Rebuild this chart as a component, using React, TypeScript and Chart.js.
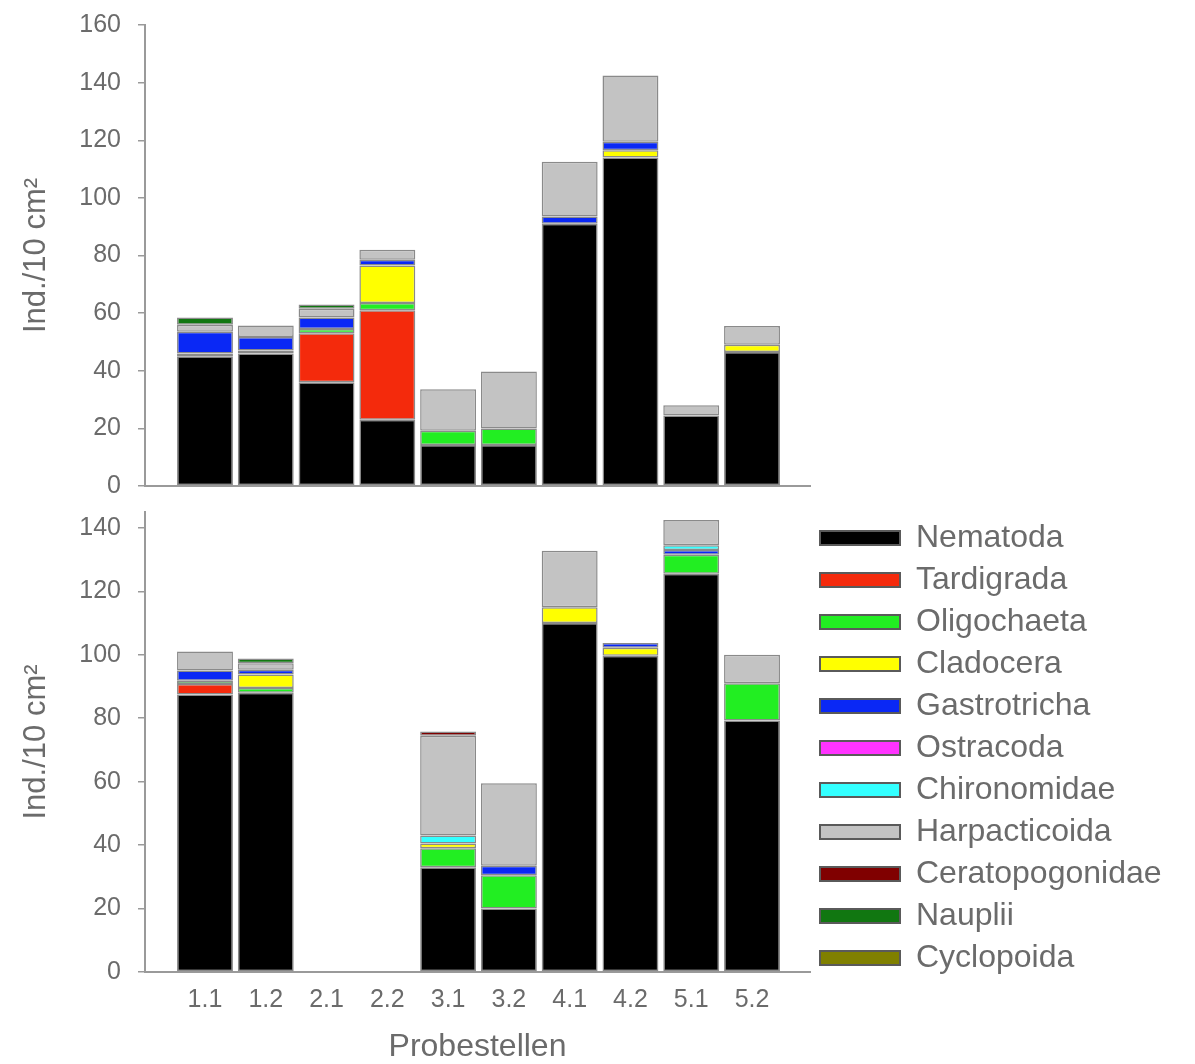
import React, { useEffect, useRef } from "react";
import { Chart, registerables } from "chart.js";

Chart.register(...registerables);

// ---- categories & legend ----
const sites = ["1.1", "1.2", "2.1", "2.2", "3.1", "3.2", "4.1", "4.2", "5.1", "5.2"];
const taxa = [
  "Nematoda",
  "Tardigrada",
  "Oligochaeta",
  "Cladocera",
  "Gastrotricha",
  "Ostracoda",
  "Chironomidae",
  "Harpacticoida",
  "Ceratopogonidae",
  "Nauplii",
  "Cyclopoida",
];
const taxonColors = [
  "#000000",
  "#f42a0c",
  "#22ee22",
  "#ffff00",
  "#0a28f5",
  "#ff33ff",
  "#33ffff",
  "#c3c3c3",
  "#800000",
  "#117711",
  "#808000",
];

// ---- upper panel (Ind./10 cm²) ----
const nematodaUpper = [45, 46, 36, 23, 14.2, 14.2, 91, 114, 24.5, 46.5];
const tardigradaUpper = [0, 0, 17, 38, 0, 0, 0, 0, 0, 0];
const oligochaetaUpper = [1, 1, 1.5, 2.5, 5, 5.8, 0, 0, 0, 0];
const cladoceraUpper = [0, 0, 0, 13, 0, 0, 0, 2.5, 0, 2.5];
const gastrotrichaUpper = [7.5, 4.7, 4, 2, 0, 0, 2.5, 3, 0, 0];
const ostracodaUpper = [0, 0, 0, 0, 0, 0, 0, 0, 0, 0];
const chironomidaeUpper = [0, 0, 0, 0, 0, 0, 0, 0, 0, 0];
const harpacticoidaUpper = [2.5, 4, 3, 3.5, 14.4, 19.7, 19, 23, 3.5, 6.5];
const ceratopogonidaeUpper = [0, 0, 0, 0, 0, 0, 0, 0, 0, 0];
const naupliiUpper = [2.5, 0, 1.5, 0, 0, 0, 0, 0, 0, 0];
const cyclopoidaUpper = [0, 0, 0, 0, 0, 0, 0, 0, 0, 0];

// ---- lower panel (Ind./10 cm²) ----
const nematodaLower = [87.5, 88, 0, 0, 33, 20, 110, 99.7, 125.5, 79.3];
const tardigradaLower = [3.3, 0, 0, 0, 0, 0, 0, 0, 0, 0];
const oligochaetaLower = [1, 1.5, 0, 0, 6, 10.5, 0, 0, 6, 11.7];
const cladoceraLower = [0, 4.3, 0, 0, 1.5, 0, 5, 2.5, 0, 0];
const gastrotrichaLower = [3.2, 1.5, 0, 0, 0, 3, 0, 1.5, 1.5, 0];
const ostracodaLower = [0, 0, 0, 0, 0, 0, 0, 0, 0, 0];
const chironomidaeLower = [0, 0, 0, 0, 2.5, 0, 0, 0, 1.5, 0];
const harpacticoidaLower = [6, 2, 0, 0, 31.5, 26, 17.8, 0, 8, 9];
const ceratopogonidaeLower = [0, 0, 0, 0, 1.3, 0, 0, 0, 0, 0];
const naupliiLower = [0, 1.5, 0, 0, 0, 0, 0, 0, 0, 0];
const cyclopoidaLower = [0, 0, 0, 0, 0, 0, 0, 0, 0, 0];

// ---- tick labels ----
const yTicksUpper = [0, 20, 40, 60, 80, 100, 120, 140, 160];
const yTicksLower = [0, 20, 40, 60, 80, 100, 120, 140];

const upperSeries = [
  nematodaUpper,
  tardigradaUpper,
  oligochaetaUpper,
  cladoceraUpper,
  gastrotrichaUpper,
  ostracodaUpper,
  chironomidaeUpper,
  harpacticoidaUpper,
  ceratopogonidaeUpper,
  naupliiUpper,
  cyclopoidaUpper,
];
const lowerSeries = [
  nematodaLower,
  tardigradaLower,
  oligochaetaLower,
  cladoceraLower,
  gastrotrichaLower,
  ostracodaLower,
  chironomidaeLower,
  harpacticoidaLower,
  ceratopogonidaeLower,
  naupliiLower,
  cyclopoidaLower,
];

// ---- style / layout constants ----
const FONT = '"Liberation Sans", Arial, Helvetica, sans-serif';
const AXIS_GRAY = "#9a9a9a";
const TEXT_GRAY = "#6b6b6b";
const CONTAINER_W = 1179;
const PLOT_LEFT = 137;
const PLOT_RIGHT = 802;
const X_MIN = -0.987;
const X_MAX = 9.954;
const TOP_W = 830;
const TOP_H = 494;
const BOT_TOP = 484;
const BOT_H = 571;
const LEGEND_FONT = 32;
const LEGEND_BOX_W = 80;
const LEGEND_PAD = 10;

// keeps Chart.js' own legend at a fixed width on the right (layout would otherwise cap it)
const legendWidthPlugin = {
  id: "legendFixedWidth",
  beforeLayout(chart: any) {
    const lg = chart.legend;
    if (!lg || lg.__fixed) return;
    const orig = lg.update.bind(lg);
    lg.update = (maxW: number, maxH: number, margins: any) => {
      orig(CONTAINER_W, maxH, margins);
      lg.width = CONTAINER_W - PLOT_RIGHT;
      lg.right = lg.left + lg.width;
    };
    lg.__fixed = true;
  },
};

function buildDatasets(series: number[][]) {
  return taxa.map((name, k) => ({
    label: name,
    data: series[k].map((v, i) => ({ x: i, y: v })),
    backgroundColor: taxonColors[k],
    borderColor: "#8a8a8a",
    borderWidth: 1.5,
    borderSkipped: false,
    categoryPercentage: 1,
    barPercentage: 0.92,
  }));
}

function xScale(showLabels: boolean, fitHeight: number) {
  return {
    type: "linear",
    min: X_MIN,
    max: X_MAX,
    offset: false,
    stacked: true,
    afterBuildTicks: (axis: any) => {
      axis.ticks = sites.map((_, i) => ({ value: i }));
    },
    afterFit: (axis: any) => {
      axis.height = fitHeight;
    },
    grid: { display: false, drawTicks: false },
    border: { display: true, color: AXIS_GRAY, width: 2 },
    ticks: {
      display: showLabels,
      autoSkip: false,
      maxRotation: 0,
      color: TEXT_GRAY,
      padding: 13,
      font: { family: FONT, size: 25 },
      callback: (v: any) => sites[Math.round(Number(v))] ?? "",
    },
    title: {
      display: showLabels,
      text: "Probestellen",
      color: TEXT_GRAY,
      font: { family: FONT, size: 32, lineHeight: 1 },
      padding: { top: 3, bottom: 0 },
    },
  };
}

function yScale(max: number, tickValues: number[]) {
  return {
    type: "linear",
    min: 0,
    max,
    stacked: true,
    afterBuildTicks: (axis: any) => {
      axis.ticks = tickValues.map((v) => ({ value: v }));
    },
    afterFit: (axis: any) => {
      axis.width = PLOT_LEFT;
      axis.paddingTop = 0;
      axis.paddingBottom = 0;
    },
    grid: {
      display: true,
      drawOnChartArea: false,
      drawTicks: true,
      tickLength: 7,
      color: AXIS_GRAY,
      lineWidth: 1.5,
    },
    border: { display: true, color: AXIS_GRAY, width: 2 },
    ticks: {
      color: TEXT_GRAY,
      padding: 17,
      font: { family: FONT, size: 25 },
    },
    title: {
      display: true,
      text: "Ind./10 cm²",
      color: TEXT_GRAY,
      font: { family: FONT, size: 31 },
      padding: { top: 10, bottom: 0 },
    },
  };
}

export default function App() {
  const topRef = useRef<HTMLCanvasElement>(null);
  const botRef = useRef<HTMLCanvasElement>(null);

  useEffect(() => {
    const topChart = new Chart(topRef.current as HTMLCanvasElement, {
      type: "bar",
      data: { datasets: buildDatasets(upperSeries) as any },
      options: {
        responsive: false,
        animation: false,
        devicePixelRatio: 1,
        layout: { padding: { top: 17, right: TOP_W - PLOT_RIGHT, bottom: 0, left: 0 } },
        plugins: { legend: { display: false }, tooltip: { enabled: false } },
        scales: {
          x: xScale(false, 16) as any,
          y: yScale(160, yTicksUpper) as any,
        },
      },
    });

    const botChart = new Chart(botRef.current as HTMLCanvasElement, {
      type: "bar",
      data: { datasets: buildDatasets(lowerSeries) as any },
      plugins: [legendWidthPlugin as any],
      options: {
        responsive: false,
        animation: false,
        devicePixelRatio: 1,
        layout: { padding: { top: 20, right: 0, bottom: 0, left: 0 } },
        plugins: {
          tooltip: { enabled: false },
          legend: {
            display: true,
            position: "right",
            align: "start",
            labels: {
              boxWidth: LEGEND_BOX_W,
              boxHeight: 14,
              padding: LEGEND_PAD,
              color: TEXT_GRAY,
              font: { family: FONT, size: LEGEND_FONT },
              generateLabels: (chart: any) =>
                (Chart.defaults.plugins.legend.labels.generateLabels as any)(chart).map((it: any) => ({
                  ...it,
                  strokeStyle: "#5a5a5a",
                  lineWidth: 2,
                })),
            },
          },
        },
        scales: {
          x: xScale(true, 91) as any,
          y: yScale(145, yTicksLower) as any,
        },
      },
    });

    return () => {
      topChart.destroy();
      botChart.destroy();
    };
  }, []);

  return (
    <div style={{ position: "relative", width: CONTAINER_W, height: 1048, overflow: "hidden" }}>
      <canvas
        ref={topRef}
        width={TOP_W}
        height={TOP_H}
        style={{ position: "absolute", left: 0, top: 0 }}
      />
      <canvas
        ref={botRef}
        width={CONTAINER_W}
        height={BOT_H}
        style={{ position: "absolute", left: 0, top: BOT_TOP }}
      />
    </div>
  );
}
